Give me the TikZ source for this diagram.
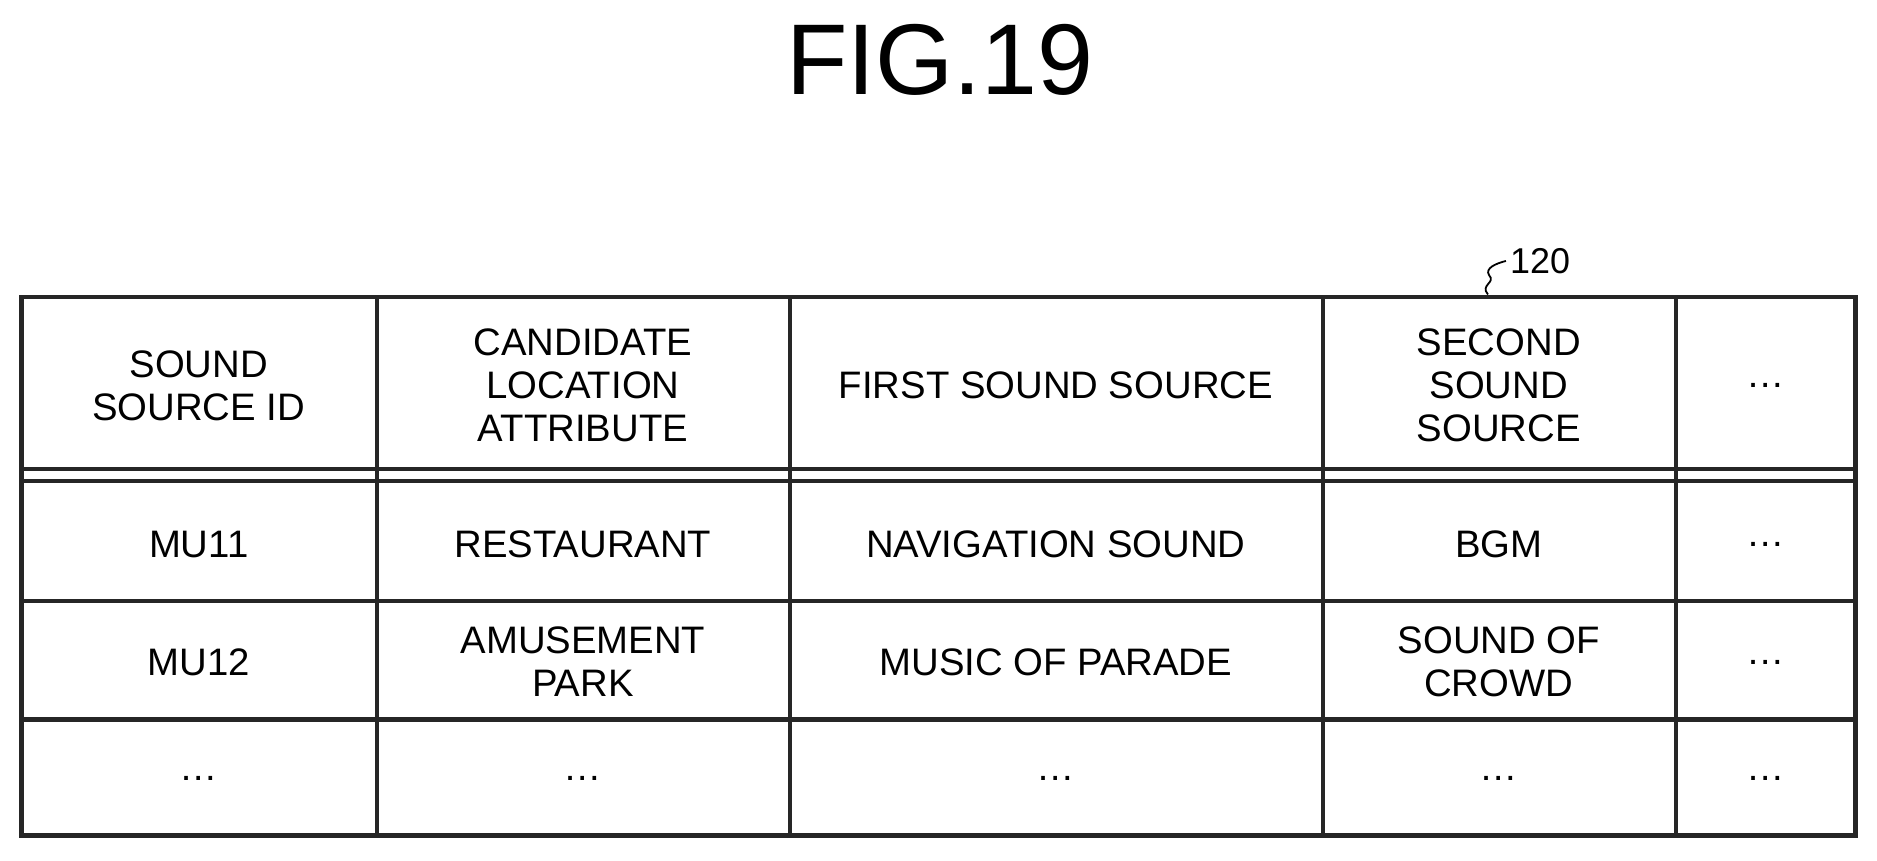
\documentclass[tikz,border=0pt]{standalone}
\usepackage{fontspec}
\setmainfont{Liberation Sans}
\begin{document}
\begin{tikzpicture}[x=1pt,y=-1pt,
  cell/.style={align=center,font=\fontsize{32}{36}\selectfont,inner sep=0pt},
  rule/.style={line width=3.5pt,black!85}]
\useasboundingbox (0,0) rectangle (1568,719);
\node[font=\fontsize{84}{90}\selectfont] (title) at (785,50) {FIG.19};
% grid
\draw[rule] (18,248) rectangle (1550,698);
\foreach \x in {315,660,1105,1400} \draw[rule] (\x,248) -- (\x,698);
\foreach \y in {392,402,502,601} \draw[rule] (18,\y) -- (1550,\y);
% label
\node[font=\fontsize{30}{34}\selectfont,anchor=west] (lbl) at (1258,218) {120};
\draw[line width=1.5pt] (1243,246) .. controls (1236,238) and (1250,236) .. (1244,230) .. controls (1240,224) and (1250,220) .. (lbl.west);
% header
\node[cell] (h1) at (166,322) {SOUND\\SOURCE ID};
\node[cell] (h2) at (487,322) {CANDIDATE\\LOCATION\\ATTRIBUTE};
\node[cell] (h3) at (882,322) {FIRST SOUND SOURCE};
\node[cell] (h4) at (1252,322) {SECOND\\SOUND\\SOURCE};
\node[cell] (h5) at (1475,322) {\dots};
% row 1
\node[cell] (a1) at (166,455) {MU11};
\node[cell] (a2) at (487,455) {RESTAURANT};
\node[cell] (a3) at (882,455) {NAVIGATION SOUND};
\node[cell] (a4) at (1252,455) {BGM};
\node[cell] (a5) at (1475,455) {\dots};
% row 2
\node[cell] (b1) at (166,553) {MU12};
\node[cell] (b2) at (487,553) {AMUSEMENT\\PARK};
\node[cell] (b3) at (882,553) {MUSIC OF PARADE};
\node[cell] (b4) at (1252,553) {SOUND OF\\CROWD};
\node[cell] (b5) at (1475,553) {\dots};
% row 3
\node[cell] (c1) at (166,650) {\dots};
\node[cell] (c2) at (487,650) {\dots};
\node[cell] (c3) at (882,650) {\dots};
\node[cell] (c4) at (1252,650) {\dots};
\node[cell] (c5) at (1475,650) {\dots};
\end{tikzpicture}
\end{document}
